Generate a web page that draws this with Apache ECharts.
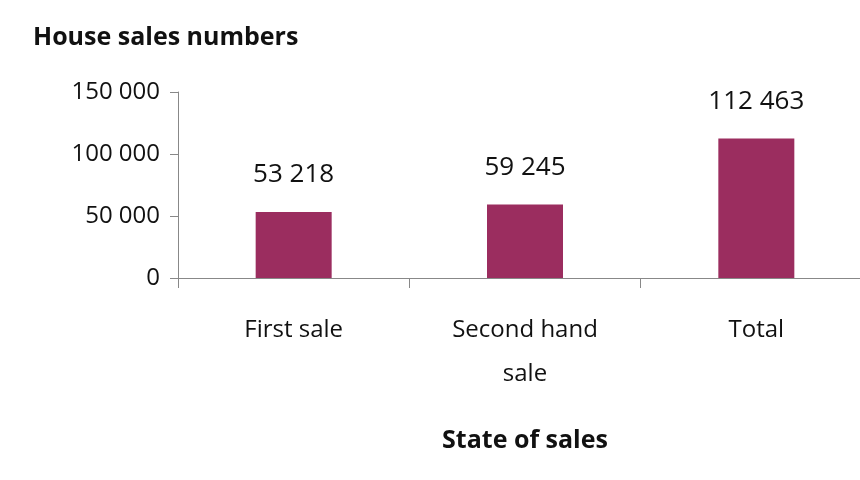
<!DOCTYPE html>
<html><head><meta charset="utf-8">
<script src="https://cdn.jsdelivr.net/npm/echarts@6/dist/echarts.min.js"></script>
<style>html,body{margin:0;background:#fff;overflow:hidden}#c{width:872px;height:480px}</style>
</head><body><div id="c"></div>
<script>
const categories = ['First sale', 'Second hand\nsale', 'Total'];
const values = [53218, 59245, 112463];
const yTicks = [0, 50000, 100000, 150000];
const fmt = v => String(v).replace(/\B(?=(\d{3})+(?!\d))/g, ' ');
const chart = echarts.init(document.getElementById('c'));
chart.setOption({
  animation: false,
  textStyle: { fontFamily: 'Open Sans' },
  title: { text: 'House sales numbers', left: 28, top: 20,
    textStyle: { fontSize: 25, fontWeight: 'bold', color: '#111', fontFamily: 'Open Sans' } },
  grid: { left: 178, right: 0, top: 92, bottom: 202 },
  xAxis: {
    type: 'category', data: categories,
    name: 'State of sales', nameLocation: 'middle', nameGap: 150,
    nameTextStyle: { fontSize: 25, fontWeight: 'bold', color: '#111' },
    axisLine: { lineStyle: { color: '#888' } },
    axisTick: { show: true, length: 10, lineStyle: { color: '#888' } },
    axisLabel: { fontSize: 24, color: '#111', margin: 30, lineHeight: 44 }
  },
  yAxis: {
    type: 'value', min: yTicks[0], max: yTicks[3], interval: 50000,
    axisLine: { show: true, lineStyle: { color: '#888' } },
    axisTick: { show: true, length: 8, lineStyle: { color: '#888' } },
    splitLine: { show: false },
    axisLabel: { fontSize: 24, color: '#111', margin: 18, formatter: fmt }
  },
  series: [{
    type: 'bar', data: values, barWidth: 76,
    itemStyle: { color: '#9B2D5F' },
    label: { show: true, position: 'top', distance: 24, fontSize: 26, color: '#111', formatter: p => fmt(p.value) }
  }]
});
</script></body></html>
